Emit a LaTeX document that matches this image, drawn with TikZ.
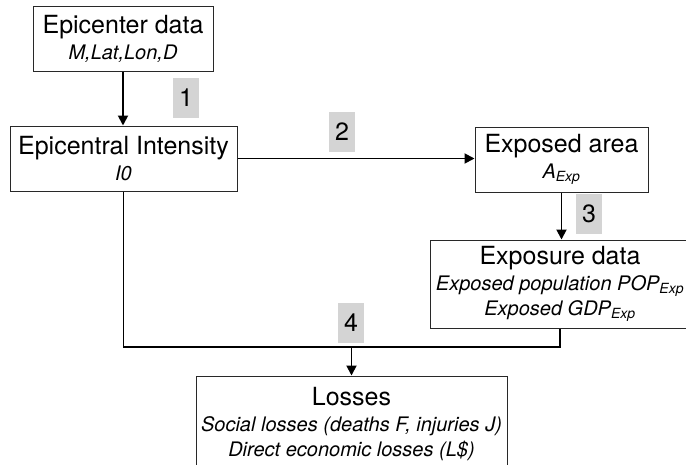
\documentclass[tikz,border=0pt]{standalone}
\usepackage{fontspec}
\setmainfont{TeX Gyre Heros}
\usetikzlibrary{arrows.meta}
\definecolor{lab}{RGB}{212,212,212}
\definecolor{boxline}{RGB}{40,40,40}
\newcommand{\ttl}{\fontsize{25}{25}\selectfont}
\newcommand{\itl}{\fontsize{20}{21}\selectfont\itshape}
\tikzset{
  box/.style={draw=boxline, line width=1pt, align=center, inner sep=0pt, anchor=center, font=\ttl},
  conn/.style={line width=1.9pt, draw=black},
  arr/.style={conn, -{Triangle[length=10pt,width=10pt]}},
  numlab/.style={fill=lab, minimum width=26pt, minimum height=40pt, inner sep=0pt, font=\ttl}
}
\begin{document}
\begin{tikzpicture}[x=1pt,y=-1pt]
\useasboundingbox (0,0) rectangle (686,464);
\node[box, minimum width=180pt, minimum height=65pt] (b1) at (123,38.5)
  {Epicenter data\\[1pt]{\itl M,Lat,Lon,D}};
\node[box, minimum width=227pt, minimum height=65pt] (b2) at (123.5,158.5)
  {Epicentral Intensity\\[1pt]{\itl I0}};
\node[box, minimum width=173pt, minimum height=65pt] (b3) at (561.5,159.5)
  {Exposed area\\[1pt]{\itl A\textsubscript{Exp}}};
\node[box, minimum width=260pt, minimum height=88pt] (b4) at (560,284)
  {Exposure data\\[1pt]{\itl Exposed population POP\textsubscript{Exp}}\\{\itl Exposed GDP\textsubscript{Exp}}};
\node[box, minimum width=311pt, minimum height=96pt] (b5) at (351.5,424)
  {Losses\\[1pt]{\itl Social losses (deaths F, injuries J)}\\{\itl Direct economic losses (L\$)}};
\coordinate (j) at (b5.north |- 0,347);
\draw[arr] (b1.south) -- (b1.south |- b2.north);
\draw[arr] (b2.east) -- (b2.east -| b3.west);
\draw[arr] (b3.south) -- (b3.south |- b4.north);
\draw[conn] (b2.south) |- (j);
\draw[conn] (b4.south) |- (j);
\draw[arr] (j) -- (b5.north);
\node[numlab] (n1) at (186,98) {1};
\node[numlab] (n2) at (342,132) {2};
\node[numlab] (n3) at (589,213.5) {3};
\node[numlab] (n4) at (351,323) {4};
\end{tikzpicture}
\end{document}
